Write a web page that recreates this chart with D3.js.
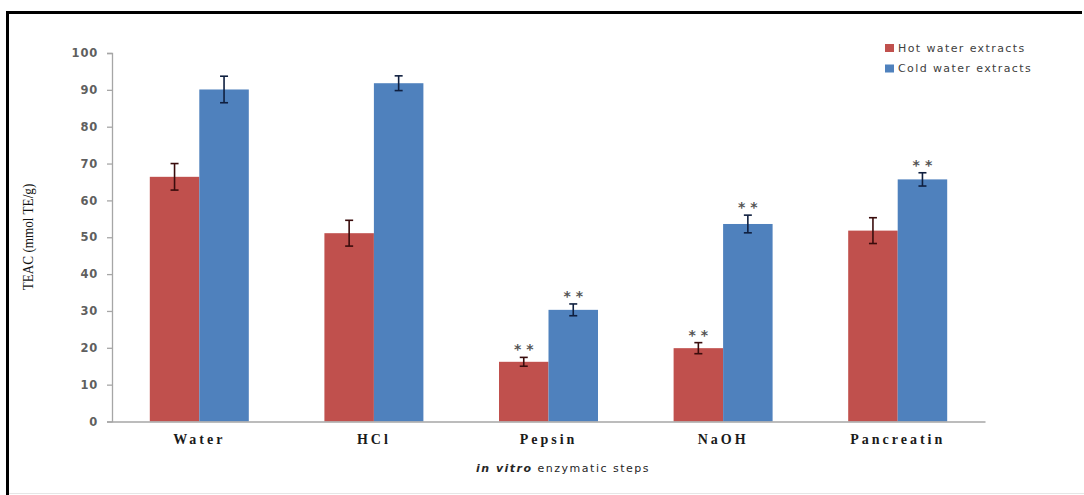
<!DOCTYPE html>
<html>
<head>
<meta charset="utf-8">
<script src="https://cdn.jsdelivr.net/npm/d3@7"></script>
<style>
  html, body { margin: 0; padding: 0; background: #fff; }
  svg { display: block; }
</style>
</head>
<body>
<svg id="chart" width="1084" height="495"></svg>
<script>
// Enzymatic digestion steps and TEAC values (mmol TE/g)
const categories = ["Water", "HCl", "Pepsin", "NaOH", "Pancreatin"];
const seriesNames = ["Hot water extracts", "Cold water extracts"];
const hotValues  = [66.4, 51.1, 16.2, 19.9, 51.8];
const coldValues = [90.1, 91.8, 30.3, 53.6, 65.7];
const hotErrors  = [3.6, 3.5, 1.2, 1.5, 3.5];
const coldErrors = [3.6, 2.0, 1.6, 2.4, 1.8];
// significance markers per bar
const hotMarks  = ["", "", "**", "**", ""];
const coldMarks = ["", "", "**", "**", "**"];
const yTicks = [0, 10, 20, 30, 40, 50, 60, 70, 80, 90, 100];

const colors = ["#C0504D", "#4F81BD"];
const errColors = ["#3a0c0c", "#0f1f3f"];

const svg = d3.select("#chart");

// frame around the figure
svg.append("path")
  .attr("d", "M7.5,495 V12.5 H1082")
  .attr("fill", "none").attr("stroke", "#000").attr("stroke-width", 3);
svg.append("line")
  .attr("x1", 9).attr("x2", 1084).attr("y1", 493.5).attr("y2", 493.5)
  .attr("stroke", "#e6e6e6").attr("stroke-width", 1);

const plot = { left: 112, right: 985, top: 53, bottom: 421.5 };

const x0 = d3.scaleBand().domain(categories)
  .range([plot.left, plot.right])
  .paddingInner(0.433).paddingOuter(0.2165);
const x1 = d3.scaleBand().domain(seriesNames).range([0, x0.bandwidth()]);
const y = d3.scaleLinear().domain([0, 100]).range([plot.bottom, plot.top]);

const rows = categories.map((c, i) => ({
  cat: c,
  bars: [
    { s: seriesNames[0], v: hotValues[i], e: hotErrors[i], m: hotMarks[i], k: 0 },
    { s: seriesNames[1], v: coldValues[i], e: coldErrors[i], m: coldMarks[i], k: 1 }
  ]
}));

// y axis
const yAxis = svg.append("g")
  .attr("transform", `translate(${plot.left},0)`)
  .call(d3.axisLeft(y).tickValues(yTicks).tickSize(5).tickPadding(9));
yAxis.select(".domain").attr("stroke", "#a6a6a6").attr("stroke-width", 1.3);
yAxis.selectAll(".tick line").attr("stroke", "#a6a6a6").attr("stroke-width", 1.3);
yAxis.selectAll(".tick text")
  .attr("fill", "#5f5f5f")
  .style("font-family", "'DejaVu Sans', Verdana, sans-serif")
  .style("font-size", "11.5px")
  .style("font-weight", "bold")
  .style("letter-spacing", "0.8px");

// bars
const groups = svg.append("g").selectAll("g").data(rows).join("g")
  .attr("transform", d => `translate(${x0(d.cat)},0)`);

groups.selectAll("rect").data(d => d.bars).join("rect")
  .attr("x", d => x1(d.s))
  .attr("y", d => y(d.v))
  .attr("width", x1.bandwidth())
  .attr("height", d => y(0) - y(d.v))
  .attr("fill", d => colors[d.k]);

// error bars
const eb = groups.selectAll("g.err").data(d => d.bars).join("g").attr("class", "err");
const cx = d => x1(d.s) + x1.bandwidth() / 2;
eb.append("line")
  .attr("x1", cx).attr("x2", cx)
  .attr("y1", d => y(d.v + d.e)).attr("y2", d => y(d.v - d.e))
  .attr("stroke", d => errColors[d.k]).attr("stroke-width", 1.6);
eb.append("line")
  .attr("x1", d => cx(d) - 4).attr("x2", d => cx(d) + 4)
  .attr("y1", d => y(d.v + d.e)).attr("y2", d => y(d.v + d.e))
  .attr("stroke", d => errColors[d.k]).attr("stroke-width", 1.6);
eb.append("line")
  .attr("x1", d => cx(d) - 4).attr("x2", d => cx(d) + 4)
  .attr("y1", d => y(d.v - d.e)).attr("y2", d => y(d.v - d.e))
  .attr("stroke", d => errColors[d.k]).attr("stroke-width", 1.6);

// significance markers
eb.filter(d => d.m).append("text")
  .attr("x", d => cx(d) + 2.5)
  .attr("y", d => y(d.v + d.e) - 3)
  .attr("text-anchor", "middle")
  .attr("fill", "#555")
  .style("font-family", "'DejaVu Sans', sans-serif")
  .style("font-size", "14px")
  .style("font-weight", "bold")
  .style("letter-spacing", "5px")
  .text(d => d.m);

// x axis
const xAxis = svg.append("g")
  .attr("transform", `translate(0,${plot.bottom})`)
  .call(d3.axisBottom(x0).tickSize(0).tickPadding(12));
xAxis.select(".domain").attr("stroke", "#a6a6a6").attr("stroke-width", 1.3);
xAxis.selectAll(".tick text")
  .attr("fill", "#1a1a1a")
  .attr("dy", "0.75em")
  .style("font-family", "'Liberation Serif', 'Times New Roman', serif")
  .style("font-size", "14px")
  .style("font-weight", "bold")
  .style("letter-spacing", "3px");

// axis titles
svg.append("text")
  .attr("transform", "translate(33,237) rotate(-90) scale(0.85,1)")
  .attr("text-anchor", "middle")
  .attr("fill", "#111")
  .style("font-family", "'Liberation Serif', 'Times New Roman', serif")
  .style("font-size", "15.5px")
  .text("TEAC (mmol TE/g)");

const xt = svg.append("text")
  .attr("x", 563).attr("y", 472)
  .attr("text-anchor", "middle")
  .attr("fill", "#262626")
  .style("font-family", "'DejaVu Sans', Verdana, sans-serif")
  .style("font-size", "11px")
  .style("letter-spacing", "1.5px");
xt.append("tspan").style("font-style", "italic").style("font-weight", "bold").text("in vitro");
xt.append("tspan").text(" enzymatic steps");

// legend
const legend = svg.append("g").attr("transform", "translate(885,44)");
const li = legend.selectAll("g").data(seriesNames).join("g")
  .attr("transform", (d, i) => `translate(0,${i * 20.5})`);
li.append("rect").attr("width", 9).attr("height", 8).attr("fill", (d, i) => colors[i]);
li.append("text")
  .attr("x", 13).attr("y", 4).attr("dy", "0.35em")
  .attr("fill", "#404040")
  .style("font-family", "'DejaVu Sans', Verdana, sans-serif")
  .style("font-size", "11px")
  .style("letter-spacing", "1.4px")
  .text(d => d);
</script>
</body>
</html>
